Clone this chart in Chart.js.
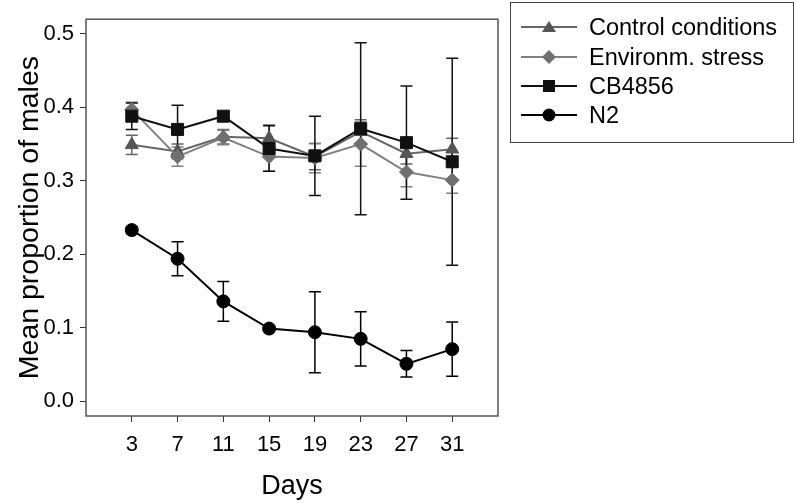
<!DOCTYPE html>
<html>
<head>
<meta charset="utf-8">
<script src="https://cdn.jsdelivr.net/npm/chart.js@4"></script>
<style>
  body { margin: 0; background: #fff; }
  #wrap { position: relative; width: 797px; height: 503px; }
  #legend {
    position: absolute; left: 510px; top: 2px; width: 284px; height: 141px;
    border: 1.5px solid #444; box-sizing: border-box;
    font-family: "Liberation Sans", Arial, sans-serif; font-size: 23.5px; color: #000;
  }
  .row { position: absolute; left: 0; height: 30px; display: flex; align-items: center; }
  .row svg { margin-left: 10px; margin-right: 12px; }
</style>
</head>
<body>
<div id="wrap">
  <canvas id="malesChart" width="797" height="503"></canvas>
  <div id="legend"></div>
</div>
<script>
var days = [3, 7, 11, 15, 19, 23, 27, 31];
var yTicks = [0, 0.1, 0.2, 0.3, 0.4, 0.5];

var controlMean = [0.349, 0.340, 0.360, 0.358, 0.333, 0.367, 0.337, 0.343];
var controlErr  = [0.013, 0.010, 0.010, 0.018, 0.018, 0.016, 0.014, 0.015];
var stressMean  = [0.397, 0.333, 0.359, 0.333, 0.331, 0.350, 0.312, 0.301];
var stressErr   = [0.010, 0.013, 0.010, 0.020, 0.020, 0.030, 0.020, 0.018];
var cbMean      = [0.388, 0.370, 0.388, 0.344, 0.334, 0.371, 0.352, 0.326];
var cbErr       = [0.018, 0.033, 0.005, 0.031, 0.054, 0.117, 0.077, 0.141];
var n2Mean      = [0.233, 0.194, 0.136, 0.099, 0.094, 0.085, 0.051, 0.071];
var n2Err       = [0.005, 0.023, 0.027, 0.003, 0.055, 0.037, 0.018, 0.037];

function points(means) {
    return days.map(function (d, i) { return {x: d, y: means[i]}; });
}

var series = [
    {label: 'Control conditions', mean: controlMean, err: controlErr, color: '#555555', line: '#666666', style: 'triangle', radius: 7.5, order: 3},
    {label: 'Environm. stress', mean: stressMean, err: stressErr, color: '#707070', line: '#808080', style: 'rectRot', radius: 7, order: 2},
    {label: 'CB4856', mean: cbMean, err: cbErr, color: '#111111', line: '#111111', style: 'rect', radius: 8.5, order: 1},
    {label: 'N2', mean: n2Mean, err: n2Err, color: '#000000', line: '#000000', style: 'circle', radius: 6.5, order: 0}
];

var errorBars = {
    id: 'errorBars',
    beforeDatasetsDraw: function (chart) {
        var ctx = chart.ctx;
        var xs = chart.scales.x, ys = chart.scales.y;
        ctx.save();
        series.forEach(function (s) {
            ctx.strokeStyle = s.line;
            ctx.lineWidth = 1.5;
            days.forEach(function (d, i) {
                var px = xs.getPixelForValue(d);
                var top = ys.getPixelForValue(s.mean[i] + s.err[i]);
                var bot = ys.getPixelForValue(s.mean[i] - s.err[i]);
                ctx.beginPath();
                ctx.moveTo(px, top); ctx.lineTo(px, bot);
                ctx.moveTo(px - 6, top); ctx.lineTo(px + 6, top);
                ctx.moveTo(px - 6, bot); ctx.lineTo(px + 6, bot);
                ctx.stroke();
            });
        });
        ctx.restore();
    },
    afterDraw: function (chart) {
        var a = chart.chartArea, ctx = chart.ctx;
        ctx.save();
        ctx.strokeStyle = '#555555';
        ctx.lineWidth = 1.5;
        ctx.strokeRect(a.left, a.top, a.right - a.left, a.bottom - a.top);
        ctx.restore();
    }
};

var ctx = document.getElementById('malesChart');
var myLineChart = new Chart(ctx, {
    type: 'line',
    data: {
        datasets: series.map(function (s) {
            return {
                label: s.label,
                data: points(s.mean),
                borderColor: s.line,
                borderWidth: 2,
                backgroundColor: s.color,
                pointBackgroundColor: s.color,
                pointBorderColor: s.color,
                pointStyle: s.style,
                pointRadius: s.radius,
                pointBorderWidth: 1,
                order: s.order
            };
        })
    },
    options: {
        responsive: false,
        animation: false,
        layout: {padding: {left: 0, top: 3, right: 299, bottom: 0}},
        plugins: {
            legend: {display: false},
            tooltip: {enabled: false}
        },
        scales: {
            x: {
                type: 'linear',
                min: -1,
                max: 35,
                afterBuildTicks: function (scale) {
                    scale.ticks = days.map(function (d) { return {value: d}; });
                },
                afterFit: function (scale) { scale.height = 87; },
                grid: {drawOnChartArea: false, drawTicks: true, tickLength: 6, color: '#333'},
                border: {display: false},
                ticks: {
                    color: '#000',
                    padding: 10,
                    maxRotation: 0,
                    font: {family: 'Liberation Sans, Arial', size: 22}
                },
                title: {
                    display: true,
                    text: 'Days',
                    color: '#000',
                    padding: {top: 0, bottom: 0},
                    font: {family: 'Liberation Sans, Arial', size: 27}
                }
            },
            y: {
                min: -0.02,
                max: 0.52,
                afterBuildTicks: function (scale) {
                    scale.ticks = yTicks.map(function (v) { return {value: v}; });
                },
                afterFit: function (scale) { scale.width = 86; },
                grid: {drawOnChartArea: false, drawTicks: true, tickLength: 6, color: '#333'},
                border: {display: false},
                ticks: {
                    color: '#000',
                    padding: 6,
                    font: {family: 'Liberation Sans, Arial', size: 22},
                    callback: function (v) { return v.toFixed(1); }
                },
                title: {
                    display: true,
                    text: 'Mean proportion of males',
                    color: '#000',
                    padding: {top: 13, bottom: 0},
                    font: {family: 'Liberation Sans, Arial', size: 28.5}
                }
            }
        }
    },
    plugins: [errorBars]
});

// legend with line + marker samples
var markerSvg = {
    triangle: '<polygon points="28,4 35,15 21,15" />',
    rectRot: '<polygon points="28,3 35,10 28,17 21,10" />',
    rect: '<rect x="22" y="4" width="12" height="12" />',
    circle: '<circle cx="28" cy="10" r="6.5" />'
};
var legend = document.getElementById('legend');
var rowTops = [9, 39, 68, 97];
series.forEach(function (s, i) {
    var row = document.createElement('div');
    row.className = 'row';
    row.style.top = rowTops[i] + 'px';
    row.innerHTML = '<svg width="56" height="20">' +
        '<line x1="0" y1="10" x2="56" y2="10" stroke="' + s.line + '" stroke-width="2" />' +
        '<g fill="' + s.color + '">' + markerSvg[s.style] + '</g></svg>' +
        '<span>' + s.label + '</span>';
    legend.appendChild(row);
});
</script>
</body>
</html>
